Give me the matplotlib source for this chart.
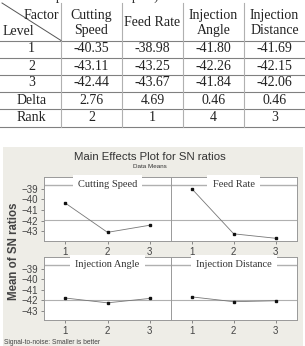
import numpy as np
import matplotlib
matplotlib.use("Agg")
import matplotlib.pyplot as plt
from matplotlib.patches import Rectangle

# data: mean SN ratios per factor level
levels = [1, 2, 3]
factors = ['Cutting Speed', 'Feed Rate', 'Injection Angle', 'Injection Distance']
headers = ['Cutting\nSpeed', 'Feed Rate', 'Injection\nAngle', 'Injection\nDistance']
cutting_speed = [-40.35, -43.11, -42.44]
feed_rate = [-38.98, -43.25, -43.67]
injection_angle = [-41.80, -42.26, -41.84]
injection_distance = [-41.69, -42.15, -42.06]
delta = [2.76, 4.69, 0.46, 0.46]
rank = [2, 1, 4, 3]
yticks = [-39, -40, -41, -42, -43]

means = [cutting_speed, feed_rate, injection_angle, injection_distance]
grand_mean = np.mean(means)

W, H = 305, 346
fig = plt.figure(figsize=(W / 100, H / 100), dpi=100)
ax0 = fig.add_axes([0, 0, 1, 1])
ax0.set_xlim(0, W)
ax0.set_ylim(H, 0)
ax0.axis('off')

serif = 'Liberation Serif'
sans = 'Liberation Sans'

# cut-off caption line (only its lower part shows)
ax0.text(45, -3.5, 'input of all samples)', family=serif, fontsize=10, ha='left', va='center', color='#333')

# ---- table ----
col_x = [2, 61, 122, 183, 244, 305]
row_y = [3, 40.5, 57.5, 74.5, 91.5, 109, 126.5]
for y in row_y[1:]:
    ax0.plot([0, W], [y, y], color='#808080', lw=0.8)
for x in col_x[1:-1]:
    ax0.plot([x, x], [row_y[0], row_y[-1]], color='#b0b0b0', lw=0.8)
ax0.plot([col_x[0], col_x[1]], [row_y[0], row_y[1]], color='#555', lw=0.7)
ax0.text(59, 15.5, 'Factor', family=serif, fontsize=10, ha='right', va='center', color='#222')
ax0.text(3, 31.5, 'Level', family=serif, fontsize=10, ha='left', va='center', color='#222')

cx = [(col_x[i] + col_x[i + 1]) / 2 for i in range(5)]
hy = (row_y[0] + row_y[1]) / 2 + 1
for i, h in enumerate(headers):
    ax0.text(cx[i + 1], hy, h, family=serif, fontsize=10, ha='center', va='center',
             linespacing=1.2, color='#222')

row_labels = ['1', '2', '3', 'Delta', 'Rank']
rows = [['%.2f' % m[k] for m in means] for k in range(3)]
rows.append(['%.2f' % d for d in delta])
rows.append([str(r) for r in rank])
for r, (lab, vals) in enumerate(zip(row_labels, rows)):
    yc = (row_y[r + 1] + row_y[r + 2]) / 2
    ax0.text(cx[0], yc, lab, family=serif, fontsize=10, ha='center', va='center', color='#222')
    for j, v in enumerate(vals):
        ax0.text(cx[j + 1], yc, v, family=serif, fontsize=10, ha='center', va='center', color='#222')

# ---- main effects plot ----
ax0.add_patch(Rectangle((3, 147), 300, 200, facecolor='#eeede7', edgecolor='none'))
ax0.text(150, 157.5, 'Main Effects Plot for SN ratios', family=sans, fontsize=8.2, ha='center',
         va='center', color='#333')
ax0.text(150, 167, 'Data Means', family=sans, fontsize=4.5, ha='center', va='center', color='#333')
ax0.text(14, 251, 'Mean of SN ratios', family=sans, fontsize=8.3, fontweight='bold', rotation=90,
         ha='center', va='center', color='#444')
ax0.text(4, 342, 'Signal-to-noise: Smaller is better', family=sans, fontsize=4.8, ha='left',
         va='center', color='#444')

px = [44.3, 170.7, 296.7]
py = [(176.7, 240.7), (256.7, 320)]
for k, (name, vals) in enumerate(zip(factors, means)):
    r, c = divmod(k, 2)
    x1, x2 = px[c], px[c + 1]
    y1, y2 = py[r]
    ax = fig.add_axes([x1 / W, 1 - y2 / H, (x2 - x1) / W, (y2 - y1) / H])
    ax.set_facecolor('white')
    ax.set_xlim(0.5, 3.5)
    ax.set_ylim(-43.9, -37.85)
    ax.axhline(grand_mean, color='#b0b0b0', lw=0.8)
    ax.axhline(-38.6, color='#b0b0b0', lw=1)
    ax.text(2, -38.6, name, family=serif, fontsize=7.5, ha='center', va='center', color='#333',
            bbox=dict(boxstyle='square,pad=0.5', facecolor='white', edgecolor='none'))
    ax.plot(levels, vals, color='#777', lw=0.6, marker='s', ms=1.8, mfc='#111', mec='#111')
    ax.set_xticks(levels)
    ax.set_yticks(yticks)
    ax.tick_params(direction='out', length=2.5, width=0.6, color='#777', labelsize=7,
                   labelcolor='#444', pad=2)
    for t in ax.get_xticklabels() + ax.get_yticklabels():
        t.set_family(sans)
    if c == 1:
        ax.tick_params(axis='y', left=False, labelleft=False)
    for s in ax.spines.values():
        s.set_color('#999')
        s.set_linewidth(0.7)

fig.savefig('out.png', dpi=100)
